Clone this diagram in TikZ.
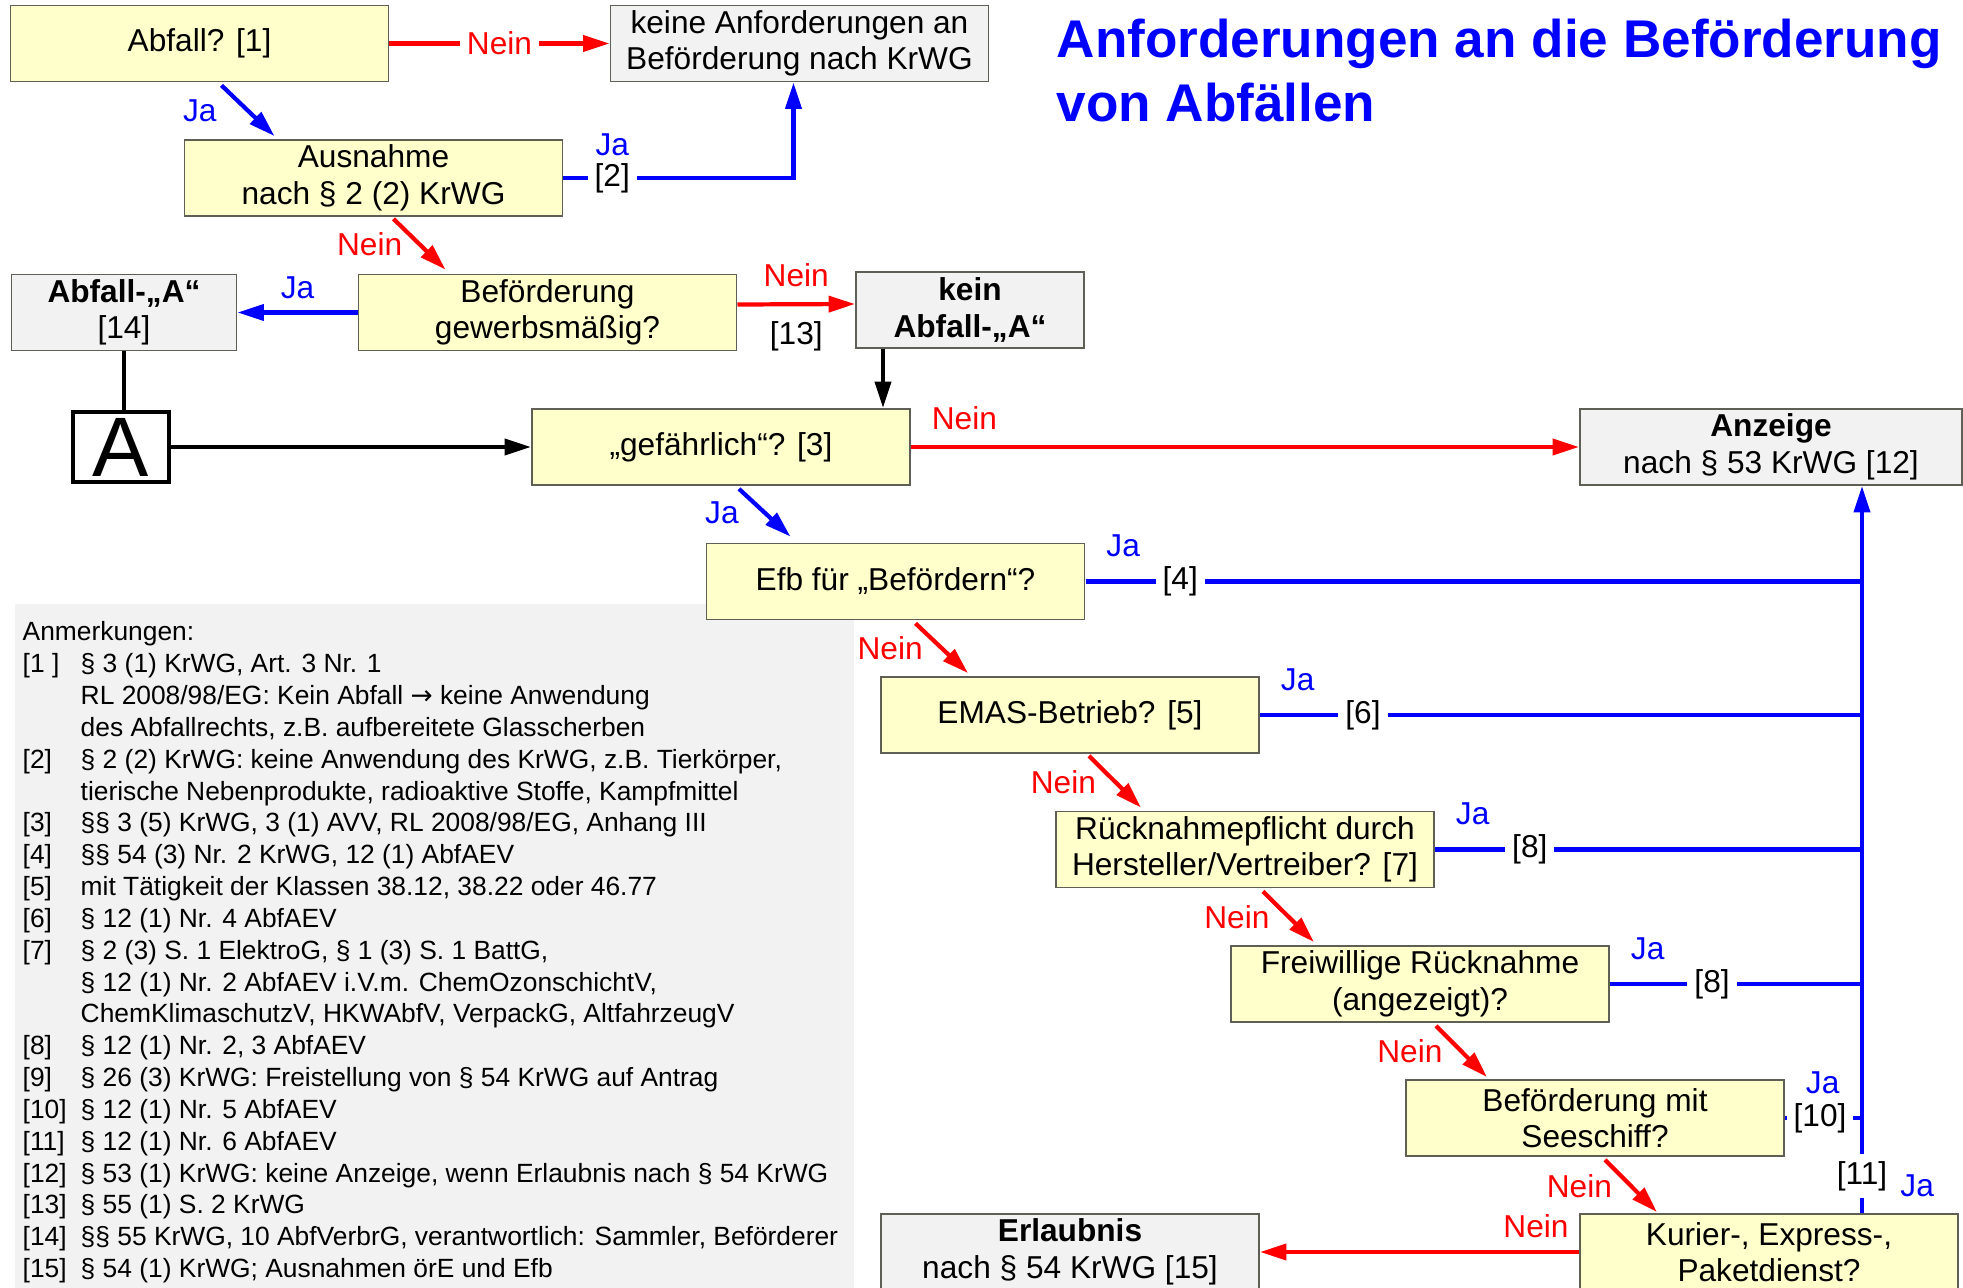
\documentclass[tikz,border=0pt]{standalone}
\usepackage{fontspec}
\setmainfont{Liberation Sans}
\newfontfamily\symfont{DejaVu Sans}        % für den Pfeil in den Anmerkungen
\usetikzlibrary{arrows.meta,               % Pfeilspitzen
           calc,                           % Koordinatenrechnung
           positioning}
\definecolor{gelb}{RGB}{255,255,204}
\definecolor{grau}{RGB}{242,242,242}
\definecolor{rahmen}{RGB}{95,95,85}
\definecolor{blau}{RGB}{0,0,255}
\definecolor{rot}{RGB}{255,0,0}

\tikzset{
  kasten/.style={draw=rahmen,line width=0.5pt,minimum width=3.78cm,
    minimum height=0.76cm,align=center,inner sep=1pt},
  frage/.style={kasten,fill=gelb},
  ergebnis/.style={kasten,fill=grau},
  pfeil/.style={line width=1.2pt,-{Triangle[length=7.5pt,width=4.5pt]}},
  jaweg/.style={pfeil,draw=blau},
  neinweg/.style={pfeil,draw=rot},
  schwarzweg/.style={pfeil,draw=black},
  jalinie/.style={line width=1.25pt,draw=blau},
  jatext/.style={text=blau},
  neintext/.style={text=rot},
  inl/.style={fill=white,inner sep=2pt},
  jaoben/.style={jatext,pos=0,anchor=south west,xshift=2pt,yshift=3pt},
  titel/.style={text=blau,font=\fontsize{15.1pt}{18.2pt}\selectfont\bfseries,
    align=left,inner sep=0pt}
}

\begin{document}
\begin{tikzpicture}[x=0.01cm,y=-0.01cm,font=\fontsize{9pt}{10.4pt}\selectfont]
\clip (0,0) rectangle (1963,1288);

% Anmerkungen
\fill[grau] (15,604) rectangle (854,1300);
\node[anchor=north west,inner sep=0pt,font=\fontsize{7.5pt}{9.05pt}\selectfont] (anm) at (22,618) {%
\begin{tabular}{@{}p{0.58cm}@{}l@{}}
\multicolumn{2}{@{}l@{}}{Anmerkungen:}\\
{[1 ]} & § 3 (1) KrWG, Art. 3 Nr. 1\\
 & RL 2008/98/EG: Kein Abfall {\symfont →} keine Anwendung\\
 & des Abfallrechts, z.B. aufbereitete Glasscherben\\
{[2]} & § 2 (2) KrWG: keine Anwendung des KrWG, z.B. Tierkörper,\\
 & tierische Nebenprodukte, radioaktive Stoffe, Kampfmittel\\
{[3]} & §§ 3 (5) KrWG, 3 (1) AVV, RL 2008/98/EG, Anhang III\\
{[4]} & §§ 54 (3) Nr. 2 KrWG, 12 (1) AbfAEV\\
{[5]} & mit Tätigkeit der Klassen 38.12, 38.22 oder 46.77\\
{[6]} & § 12 (1) Nr. 4 AbfAEV\\
{[7]} & § 2 (3) S. 1 ElektroG, § 1 (3) S. 1 BattG,\\
 & § 12 (1) Nr. 2 AbfAEV i.V.m. ChemOzonschichtV,\\
 & ChemKlimaschutzV, HKWAbfV, VerpackG, AltfahrzeugV\\
{[8]} & § 12 (1) Nr. 2, 3 AbfAEV\\
{[9]} & § 26 (3) KrWG: Freistellung von § 54 KrWG auf Antrag\\
{[10]} & § 12 (1) Nr. 5 AbfAEV\\
{[11]} & § 12 (1) Nr. 6 AbfAEV\\
{[12]} & § 53 (1) KrWG: keine Anzeige, wenn Erlaubnis nach § 54 KrWG\\
{[13]} & § 55 (1) S. 2 KrWG\\
{[14]} & §§ 55 KrWG, 10 AbfVerbrG, verantwortlich: Sammler, Beförderer\\
{[15]} & § 54 (1) KrWG; Ausnahmen örE und Efb
\end{tabular}};

\node[titel,anchor=north west] (titel) at (1056,18) {Anforderungen an die Beförderung\\von Abfällen};

% Kästen
\node[frage] (abfall) at (199.5,43.5) {Abfall? [1]};
\node[ergebnis] (keine) at (799.5,43.5) {keine Anforderungen an\\Beförderung nach KrWG};
\node[frage] (ausnahme) at (373.5,178) {Ausnahme\\nach § 2 (2) KrWG};
\node[frage] (gewerb) at (547.5,312.5) {Beförderung\\gewerbsmäßig?};
\node[ergebnis,minimum width=2.25cm] (abfallA) at (124,312.5) {\textbf{Abfall-„A“}\\{[14]}};
\node[ergebnis,minimum width=2.28cm] (keinA) at (970,310) {\textbf{kein}\\\textbf{Abfall-„A“}};
\node[draw,line width=1.2pt,fill=white,minimum width=0.96cm,minimum height=0.7cm,
  inner sep=0pt,font=\fontsize{24pt}{24pt}\selectfont] (asym) at (121,447) {A};
\node[frage] (gefahr) at (721,447) {„gefährlich“? [3]};
\node[ergebnis,minimum width=3.82cm] (anzeige) at (1771,447) {\textbf{Anzeige}\\nach § 53 KrWG [12]};
\node[frage] (efb) at (895.5,581.5) {Efb für „Befördern“?};
\node[frage] (emas) at (1070,715) {EMAS-Betrieb? [5]};
\node[frage] (rueck) at (1245,849.5) {Rücknahmepflicht durch\\Hersteller/Vertreiber? [7]};
\node[frage] (freiw) at (1420,984) {Freiwillige Rücknahme\\(angezeigt)?};
\node[frage] (see) at (1595,1118) {Beförderung mit\\Seeschiff?};
\node[frage] (kurier) at (1769,1252) {Kurier-, Express-,\\Paketdienst?};
\node[ergebnis] (erlaubnis) at (1070,1252) {\textbf{Erlaubnis}\\nach § 54 KrWG [15]};

% Verbindungen
\draw[neinweg] (abfall) -- node[inl,neintext]{Nein} (keine);
\draw[jaweg] ($(abfall.south west)+(212,3)$) -- node[jatext,left=5pt]{Ja} ($(ausnahme.north west)+(91,-3)$);
\draw[jaweg] (ausnahme.east) -| node[inl,pos=0.106]{[2]} node[jatext,pos=0.106,above=2.5pt]{Ja} ($(keine.south)+(-6,0)$);
\draw[neinweg] ($(ausnahme.south west)+(210,2)$) -- node[neintext,left=1pt]{Nein} ($(gewerb.north west)+(88,-4)$);
\draw[jaweg] (gewerb) -- node[jatext,above]{Ja} (abfallA);
\draw[neinweg] ($(gewerb.east)+(0,-8)$) -- node[neintext,above=1pt]{Nein} node[below=1pt]{[13]} ($(keinA.west)+(0,-6)$);
\coordinate (kA) at ($(keinA.south)+(-87,0)$);
\draw[schwarzweg] (kA) -- (kA |- gefahr.north);
\draw[line width=1.2pt] (abfallA.south) -- (abfallA.south |- asym.north);
\draw[schwarzweg] (asym) -- (gefahr);
\draw[neinweg] (gefahr) -- node[neintext,pos=0.08,above=1pt]{Nein} (anzeige);
\draw[jaweg] ($(gefahr.south west)+(208,3)$) -- node[jatext,left=3.5pt]{Ja} ($(efb.north west)+(85,-6)$);

\draw[neinweg] ($(efb.south west)+(210,3)$) -- node[neintext,left=1.5pt]{Nein} ($(emas.north west)+(88,-3)$);
\draw[neinweg] ($(emas.south west)+(209,2)$) -- node[neintext,left=1.5pt]{Nein} ($(rueck.north west)+(86,-3)$);
\draw[neinweg] ($(rueck.south west)+(208,3)$) -- node[neintext,left=1.5pt]{Nein} ($(freiw.north west)+(84,-3)$);
\draw[neinweg] ($(freiw.south west)+(206,3)$) -- node[neintext,left=1.5pt]{Nein} ($(see.north west)+(82,-2)$);
\draw[neinweg] ($(see.south west)+(200,3)$) -- node[neintext,left=1.5pt]{Nein} ($(kurier.north west)+(78,-1)$);
\draw[neinweg] (kurier) -- node[neintext,pos=0.135,above]{Nein} (erlaubnis);

\coordinate (stamm) at ($(anzeige.south)+(91,0)$);
\draw[jalinie] (efb) -- node[jaoben]{Ja} node[inl,pos=0.122]{[4]} (efb -| stamm);
\draw[jalinie] (emas) -- node[jaoben]{Ja} node[inl,pos=0.171]{[6]} (emas -| stamm);
\draw[jalinie] (rueck) -- node[jaoben]{Ja} node[inl,pos=0.222]{[8]} (rueck -| stamm);
\draw[jalinie] (freiw) -- node[jaoben]{Ja} node[inl,pos=0.405]{[8]} (freiw -| stamm);
\draw[jalinie] (see) -- node[jaoben]{Ja} node[inl,pos=0.455]{[10]} (see -| stamm);
\draw[jaweg] (stamm |- kurier.north) -- node[inl,pos=0.051]{[11]} node[jatext,pos=0.037,right=7pt]{Ja} (stamm);
\end{tikzpicture}
\end{document}
